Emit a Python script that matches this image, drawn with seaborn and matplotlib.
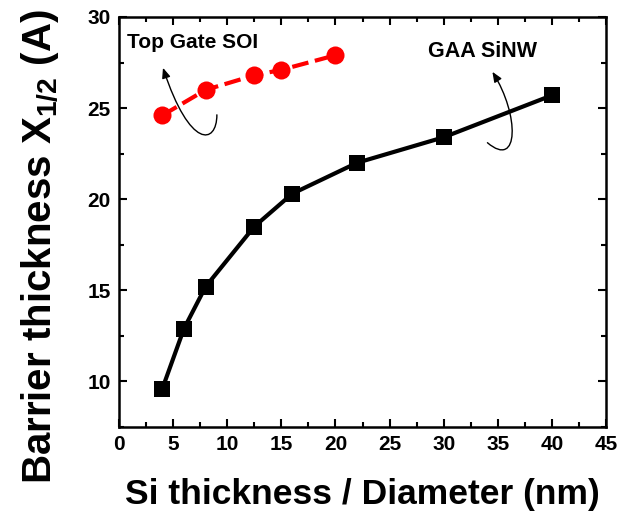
import matplotlib
matplotlib.use("Agg")
import matplotlib.pyplot as plt
import seaborn as sns
import pandas as pd
from matplotlib.patches import FancyArrowPatch
from matplotlib.path import Path

gaa_x = [4, 6, 8, 12.5, 16, 22, 30, 40]
gaa_y = [9.6, 12.9, 15.2, 18.5, 20.3, 22.0, 23.4, 25.7]
soi_x = [4, 8, 12.5, 15, 20]
soi_y = [24.6, 26.0, 26.8, 27.1, 27.9]

sns.set_theme(style="ticks")
plt.rcParams['font.family'] = ['Liberation Sans', 'DejaVu Sans']
plt.rcParams['font.weight'] = 'bold'
plt.rcParams['text.color'] = 'black'
plt.rcParams['axes.labelcolor'] = 'black'
plt.rcParams['xtick.color'] = 'black'
plt.rcParams['ytick.color'] = 'black'
plt.rcParams['mathtext.fontset'] = 'custom'
plt.rcParams['mathtext.rm'] = 'Liberation Sans:bold'
plt.rcParams['mathtext.bf'] = 'Liberation Sans:bold'
plt.rcParams['mathtext.it'] = 'Liberation Sans:bold'

fig = plt.figure(figsize=(6.2, 5.16), dpi=100)
ax = fig.add_axes([0.192, 0.1725, 0.7855, 0.7946])

df_gaa = pd.DataFrame({'x': gaa_x, 'y': gaa_y})
df_soi = pd.DataFrame({'x': soi_x, 'y': soi_y})

sns.lineplot(data=df_gaa, x='x', y='y', ax=ax, color='black', linewidth=3,
             marker='s', markersize=12, markeredgecolor='black', markeredgewidth=0,
             sort=False, zorder=3)
sns.lineplot(data=df_soi, x='x', y='y', ax=ax, color='#ff0000', linewidth=3,
             marker='o', markersize=13, markeredgecolor='#ff0000', markeredgewidth=0,
             sort=False, zorder=3)
ax.lines[-1].set_dashes((4, 1.6))

ax.set_xlim(0, 45)
ax.set_ylim(7.5, 30)
ax.set_xticks(range(0, 46, 5))
ax.set_yticks([10, 15, 20, 25, 30])
ax.set_xticks([x + 2.5 for x in range(0, 45, 5)], minor=True)
ax.set_yticks([7.5, 12.5, 17.5, 22.5, 27.5], minor=True)
ax.tick_params(which='both', direction='in', top=True, right=True, width=1.5)
ax.tick_params(which='major', length=6, labelsize=15, pad=6)
ax.tick_params(which='minor', length=3.5)
for lab in ax.get_xticklabels() + ax.get_yticklabels():
    lab.set_fontweight('bold')
for s in ax.spines.values():
    s.set_linewidth(1.8)
    s.set_color('black')

ax.set_xlabel('Si thickness / Diameter (nm)', fontsize=25.5, fontweight='bold')
ax.xaxis.set_label_coords(0.5, -0.125)
ax.set_ylabel(r'Barrier thickness X$_{1/2}$ (A)', fontsize=29, fontweight='bold')
ax.yaxis.set_label_coords(-0.12, 0.44)

ax.text(0.74, 28.58, 'Top Gate SOI', fontsize=15, fontweight='bold', va='center', ha='left')
ax.text(28.55, 28.11, 'GAA SiNW', fontsize=15.5, fontweight='bold', va='center', ha='left')

codes = [Path.MOVETO, Path.CURVE4, Path.CURVE4, Path.CURVE4]
p1 = Path([(9.04, 24.63), (9.04, 22.99), (6.55, 22.71), (4.06, 27.21)], codes)
p2 = Path([(34.04, 23.10), (36.99, 21.62), (36.99, 24.63), (34.50, 26.99)], codes)
for p in (p1, p2):
    arr = FancyArrowPatch(path=p, arrowstyle='-|>,head_length=6,head_width=2.5',
                          color='black', lw=1, transform=ax.transData)
    ax.add_patch(arr)

fig.savefig('out.png', dpi=100)
